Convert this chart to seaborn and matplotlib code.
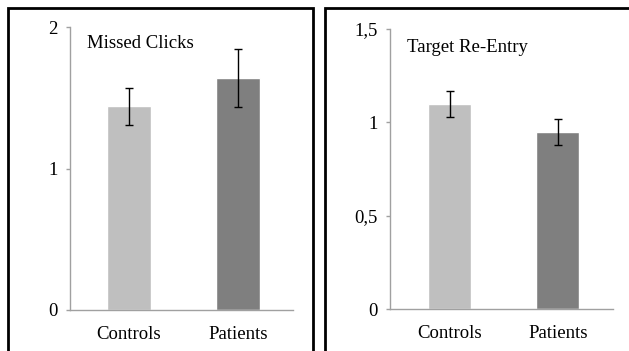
import matplotlib
matplotlib.use("Agg")
import matplotlib.pyplot as plt
from matplotlib.lines import Line2D
from matplotlib.ticker import FixedLocator
import seaborn as sns
import pandas as pd

# Group means and standard errors
groups = ["Controls", "Patients"]
missed_mean = [1.44, 1.64]
missed_se = [0.13, 0.205]
reentry_mean = [1.10, 0.95]
reentry_se = [0.07, 0.07]

missed_ticks = [0, 1, 2]
missed_ticklabels = ["0", "1", "2"]
reentry_ticks = [0, 0.5, 1.0, 1.5]
reentry_ticklabels = ["0", "0,5", "1", "1,5"]

bar_colors = ["#bfbfbf", "#7f7f7f"]
axis_gray = "#a0a0a0"

sns.set_style("white")
plt.rcParams["font.family"] = ["Liberation Serif", "DejaVu Serif"]

W, H = 629, 351
fig = plt.figure(figsize=(W / 100, H / 100), dpi=100)


def px_axes(x0, x1, ytop, ybot):
    return fig.add_axes([x0 / W, 1 - ybot / H, (x1 - x0) / W, (ybot - ytop) / H])


def panel(ax, means, ses, ticks, ticklabels, ymax, title, xlim, title_y):
    df = pd.DataFrame({"group": groups, "value": means})
    sns.barplot(data=df, x="group", y="value", hue="group", palette=bar_colors,
                width=0.4, saturation=1, errorbar=None, legend=False, ax=ax)
    ax.errorbar(range(len(groups)), means, yerr=ses, fmt="none",
                ecolor="black", elinewidth=1.0, capsize=3, capthick=1.0)
    ax.set_ylim(0, ymax)
    ax.set_xlim(*xlim)
    ax.yaxis.set_major_locator(FixedLocator(ticks))
    ax.set_yticklabels(ticklabels)
    ax.set_xlabel("")
    ax.set_ylabel("")
    for s in ("top", "right"):
        ax.spines[s].set_visible(False)
    for s in ("left", "bottom"):
        ax.spines[s].set_color(axis_gray)
        ax.spines[s].set_linewidth(1.0)
    ax.tick_params(axis="y", which="major", left=True, length=3, width=1.0,
                   color=axis_gray, pad=6, labelsize=13.5, labelcolor="black")
    ax.tick_params(axis="x", which="major", bottom=False, pad=8,
                   labelsize=13.5, labelcolor="black")
    ax.set_facecolor("white")
    ax.text(0.075, title_y, title, transform=ax.transAxes, ha="left",
            va="center", fontsize=13.5, color="black")


ax1 = px_axes(70, 293, 27, 310)
panel(ax1, missed_mean, missed_se, missed_ticks, missed_ticklabels, 2,
      "Missed Clicks", (-0.54, 1.50), 0.942)

ax2 = px_axes(390, 613, 29, 309)
panel(ax2, reentry_mean, reentry_se, reentry_ticks, reentry_ticklabels, 1.5,
      "Target Re-Entry", (-0.55, 1.51), 0.935)


# Black frames around each panel
def frame(xs, ys):
    fig.add_artist(Line2D([x / W for x in xs], [1 - y / H for y in ys],
                          transform=fig.transFigure, color="black",
                          linewidth=2.0, solid_joinstyle="miter"))


frame([8, 8, 313, 313], [360, 8, 8, 360])
frame([325, 325, 640], [360, 8, 8])

fig.savefig("out.png", dpi=100, facecolor="white")
